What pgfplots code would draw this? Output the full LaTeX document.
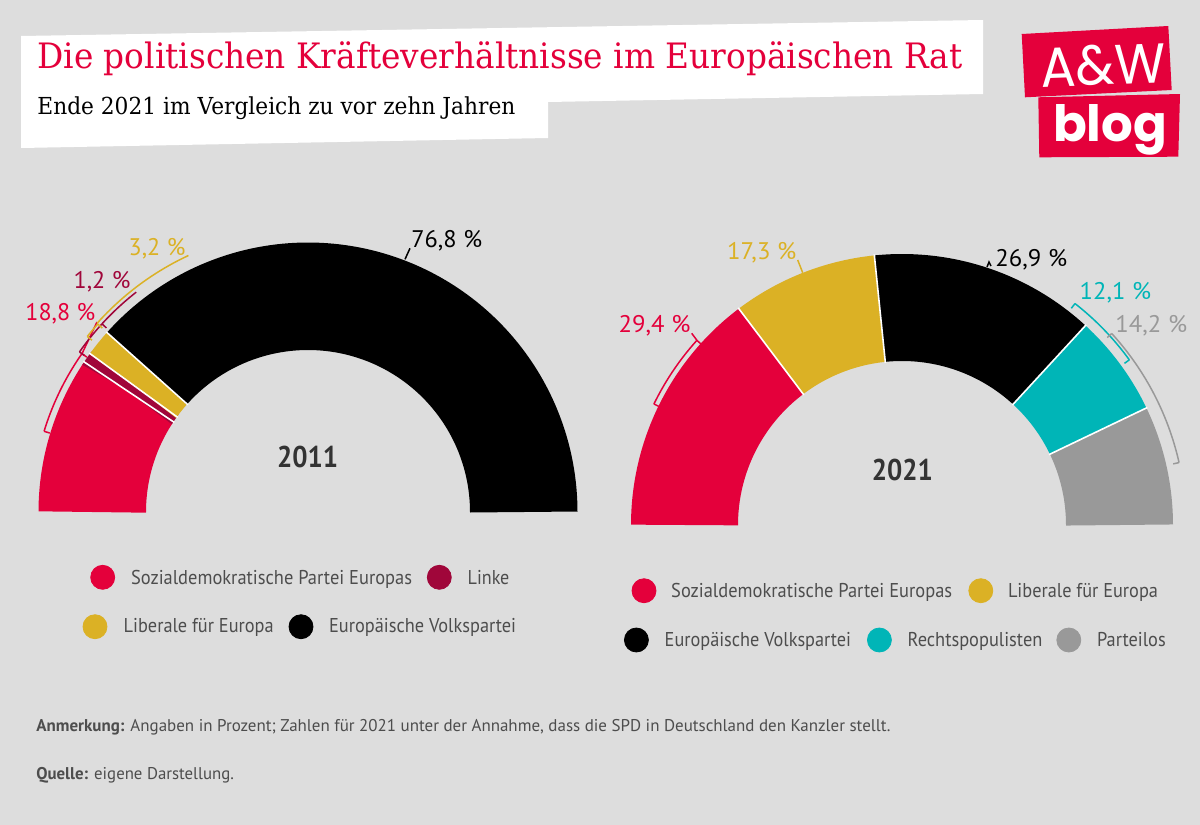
\documentclass[border=0pt]{standalone}
\usepackage{fontspec}
\setmainfont{PT Sans}
\newfontfamily\seriffont{DejaVu Serif}
\newfontfamily\logofont{Poppins}
\usepackage{graphicx}
\usepackage{pgfplots}
\pgfplotsset{compat=1.18}

\definecolor{bg}{HTML}{DDDDDD}
\definecolor{spe}{HTML}{E4003B}
\definecolor{linke}{HTML}{A0063A}
\definecolor{lib}{HTML}{DBB125}
\definecolor{rp}{HTML}{00B5B7}
\definecolor{pl}{HTML}{999999}
\definecolor{txt}{HTML}{4D4D4D}
\definecolor{dark}{HTML}{333333}

\newdimen\px \px=0.5pt
\newcommand\fitw[2]{\resizebox{#1\px}{\height}{#2}}

% ring segment: cx cy R r start value total colour
\newcommand\ringseg[8]{%
  \pgfmathsetmacro\aS{180-(#5)/(#7)*180}%
  \pgfmathsetmacro\aE{180-(#5+#6)/(#7)*180}%
  \pgfmathsetmacro\rmid{(#3+#4)/2}%
  \pgfmathsetmacro\lw{(#3-#4)/2}%
  \edef\tmp{\noexpand\addplot[draw=#8, line width=\lw pt, line cap=butt, line join=round, domain=\aE:\aS, samples=150, no marks] ({#1+\rmid*cos(x)},{#2-\rmid*sin(x)});}%
  \tmp}
% separator: cx cy R r cumulative total
\newcommand\ringsep[6]{%
  \pgfmathsetmacro\sang{180-(#5)/(#6)*180}%
  \pgfmathsetmacro\xa{#1+(#4-1)*cos(\sang)}%
  \pgfmathsetmacro\ya{#2-(#4-1)*sin(\sang)}%
  \pgfmathsetmacro\xb{#1+(#3+1)*cos(\sang)}%
  \pgfmathsetmacro\yb{#2-(#3+1)*sin(\sang)}%
  \edef\tmp{\noexpand\addplot[white, line width=0.8pt, no marks] coordinates {(\xa,\ya) (\xb,\yb)};}%
  \tmp}
% bracket: cx cy r a1 a2 colour
\newcommand\bracket[6]{%
  \pgfmathsetmacro\xai{#1+(#3-6)*cos(#4)}\pgfmathsetmacro\yai{#2-(#3-6)*sin(#4)}%
  \pgfmathsetmacro\xao{#1+#3*cos(#4)}\pgfmathsetmacro\yao{#2-#3*sin(#4)}%
  \pgfmathsetmacro\xbi{#1+(#3-6)*cos(#5)}\pgfmathsetmacro\ybi{#2-(#3-6)*sin(#5)}%
  \pgfmathsetmacro\xbo{#1+#3*cos(#5)}\pgfmathsetmacro\ybo{#2-#3*sin(#5)}%
  \edef\tmp{\noexpand\addplot[#6, line width=0.75pt, no marks] coordinates {(\xai,\yai) (\xao,\yao)};%
    \noexpand\addplot[#6, line width=0.75pt, no marks, domain=#4:#5, samples=40] ({#1+#3*cos(x)},{#2-#3*sin(x)});%
    \noexpand\addplot[#6, line width=0.75pt, no marks] coordinates {(\xbo,\ybo) (\xbi,\ybi)};}%
  \tmp}
\newcommand\larc[6]{%
  \addplot[#6, line width=0.75pt, no marks, domain=#4:#5, samples=40] ({#1+#3*cos(x)},{#2-#3*sin(x)});}
\newcommand\lline[5]{%
  \addplot[#1, line width=0.75pt, no marks] coordinates {(#2,#3) (#4,#5)};}
\newcommand\pct[5]{% x baseline width colour text
  \node[anchor=base west, inner sep=0, text=#4, font=\fontsize{12}{14}\selectfont] at (#1,#2) {\fitw{#3}{#5}};}
\newcommand\legentry[7]{% cx cy colour tx baseline width text
  \addplot[only marks, mark=*, mark size=6pt, mark options={draw=#3, fill=#3}] coordinates {(#1,#2)};
  \node[anchor=base west, inner sep=0, text=txt, font=\fontsize{10}{12}\selectfont] at (#4,#5) {\fitw{#6}{#7}};}

\begin{document}
\begin{tikzpicture}
\useasboundingbox (0,0) rectangle (600pt,412.5pt);
\fill[bg] (0,0) rectangle (600pt,412.5pt);
\begin{axis}[at={(0,0)}, anchor=south west, scale only axis, width=600pt, height=412.5pt,
  xmin=0, xmax=1200, ymin=0, ymax=825, y dir=reverse, hide axis, clip=false]

% title boxes
\fill[white] (21,36) -- (983,20) -- (983,94) -- (548,102) -- (548,138) -- (21,148) -- cycle;
\node[anchor=base west, inner sep=0, text=spe] at (37,68.3) {\fitw{925}{\seriffont\fontsize{17.5}{21}\selectfont Die politischen Kräfteverhältnisse im Europäischen Rat}};
\node[anchor=base west, inner sep=0, text=black] at (37,114.3) {\fitw{478}{\seriffont\fontsize{11.7}{14}\selectfont Ende 2021 im Vergleich zu vor zehn Jahren}};

% logo
\fill[spe] (1021.7,34) -- (1168.3,26) -- (1171.7,90) -- (1025,97.3) -- cycle;
\fill[spe] (1038.3,97.3) -- (1180,94) -- (1178.3,156.7) -- (1039.3,157.3) -- cycle;
\node[anchor=base, inner sep=0, text=white, rotate=2] at (1104,85) {\fitw{125}{\logofont\fontsize{28}{30}\selectfont A\&W}};
\node[anchor=base, inner sep=0, text=white] at (1110,141.7) {\fitw{114}{\logofont\bfseries\fontsize{25}{30}\selectfont blog}};

% 2011: SPE 18.8, Linke 1.2, Liberale 3.2, EVP 76.8
\ringseg{308}{512}{269.5}{162}{0}{18.8}{100}{spe}
\ringseg{308}{512}{269.5}{162}{18.8}{1.2}{100}{linke}
\ringseg{308}{512}{269.5}{162}{20}{3.2}{100}{lib}
\ringseg{308}{512}{269.5}{162}{23.2}{76.8}{100}{black}
\ringsep{308}{512}{269.5}{162}{18.8}{100}
\ringsep{308}{512}{269.5}{162}{20}{100}
\ringsep{308}{512}{269.5}{162}{23.2}{100}

% 2021: SPE 29.4, Liberale 17.3, EVP 26.9, Rechtspopulisten 12.1, Parteilos 14.2
\ringseg{902}{525}{271}{164}{0}{29.4}{99.9}{spe}
\ringseg{902}{525}{271}{164}{29.4}{17.3}{99.9}{lib}
\ringseg{902}{525}{271}{164}{46.7}{26.9}{99.9}{black}
\ringseg{902}{525}{271}{164}{73.6}{12.1}{99.9}{rp}
\ringseg{902}{525}{271}{164}{85.7}{14.2}{99.9}{pl}
\ringsep{902}{525}{271}{164}{29.4}{99.9}
\ringsep{902}{525}{271}{164}{46.7}{99.9}
\ringsep{902}{525}{271}{164}{73.6}{99.9}
\ringsep{902}{525}{271}{164}{85.7}{99.9}

% brackets and leaders 2011
\bracket{308}{512}{276}{145}{163}{spe}
\lline{spe}{82}{353.7}{97}{322}
\bracket{308}{512}{279}{137.6}{145}{linke}
\larc{308}{512}{279}{128}{137.6}{linke}
\bracket{308}{512}{282}{138.2}{141.5}{lib}
\larc{308}{512}{283}{115}{138.2}{lib}
\lline{black}{405}{259.3}{410}{248.3}

% brackets and leaders 2021
\bracket{902}{525}{276}{138}{154}{spe}
\lline{spe}{696.9}{340.3}{691.7}{333.3}
\lline{lib}{797.7}{260}{802.7}{272.7}
\addplot[black, line width=0.75pt, no marks] coordinates {(987,267) (989,262) (991,266)};
\bracket{902}{525}{281}{36}{52}{rp}
\bracket{902}{525}{284}{12.7}{42.4}{pl}

% value labels
\pct{25}{320}{70}{spe}{18,8 \%}
\pct{73.3}{288.3}{56.7}{linke}{1,2 \%}
\pct{128.3}{255}{56.7}{lib}{3,2 \%}
\pct{411}{247}{70.7}{black}{76,8 \%}
\pct{618.3}{332.3}{71.7}{spe}{29,4 \%}
\pct{726.7}{259.3}{69.3}{lib}{17,3 \%}
\pct{995}{266}{71.7}{black}{26,9 \%}
\pct{1079.3}{299.3}{71.4}{rp}{12,1 \%}
\pct{1115}{332.7}{71.7}{pl}{14,2 \%}

% year labels
\node[anchor=base, inner sep=0, text=dark] at (307.5,467.3) {\fitw{61}{\bfseries\fontsize{15}{18}\selectfont 2011}};
\node[anchor=base, inner sep=0, text=dark] at (902.3,480) {\fitw{61}{\bfseries\fontsize{15}{18}\selectfont 2021}};

% legends
\legentry{102.7}{577.3}{spe}{130.7}{584}{281}{Sozialdemokratische Partei Europas}
\legentry{439.3}{577.3}{linke}{467.3}{584}{41.7}{Linke}
\legentry{95}{626.7}{lib}{123.3}{632.7}{150}{Liberale für Europa}
\legentry{301}{626.7}{black}{328.7}{632.7}{187}{Europäische Volkspartei}
\legentry{644}{590.7}{spe}{670.8}{597.3}{281}{Sozialdemokratische Partei Europas}
\legentry{980.8}{590.7}{lib}{1007.6}{597.3}{150}{Liberale für Europa}
\legentry{636.4}{640}{black}{664.3}{646.7}{186.4}{Europäische Volkspartei}
\legentry{879.4}{640}{rp}{907.3}{646.7}{134.7}{Rechtspopulisten}
\legentry{1068.8}{640}{pl}{1096.7}{646.7}{68.6}{Parteilos}

% notes
\node[anchor=base west, inner sep=0, text=txt] at (36,731) {\fitw{854}{\fontsize{8.5}{10}\selectfont\textbf{Anmerkung:} Angaben in Prozent; Zahlen für 2021 unter der Annahme, dass die SPD in Deutschland den Kanzler stellt.}};
\node[anchor=base west, inner sep=0, text=txt] at (36,779) {\fitw{197.5}{\fontsize{8.5}{10}\selectfont\textbf{Quelle:} eigene Darstellung.}};
\end{axis}
\end{tikzpicture}
\end{document}
